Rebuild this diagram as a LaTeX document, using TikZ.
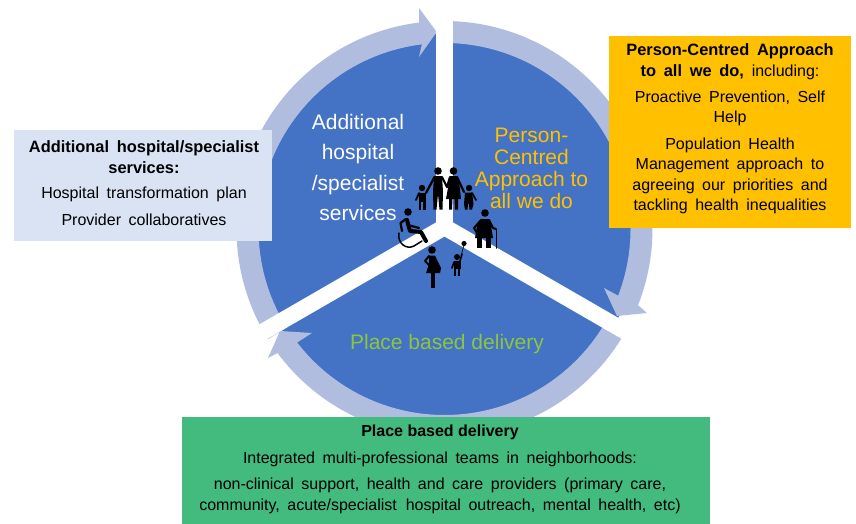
\documentclass[tikz,border=0pt]{standalone}
\usepackage{fontspec}
\setmainfont{Liberation Sans}
\newfontfamily\bodyfont[WordSpace=1.7]{Liberation Sans}
\definecolor{sector}{HTML}{4472C4}
\definecolor{ringc}{HTML}{B0BDDE}
\definecolor{leftbox}{HTML}{DAE3F3}
\definecolor{orangebox}{HTML}{FFC000}
\definecolor{greenbox}{HTML}{43BA7E}
\definecolor{goldtext}{HTML}{FFC000}
\definecolor{greentext}{HTML}{8CC63F}
\begin{document}
\begin{tikzpicture}[x=1pt,y=-1pt,
  ring/.style={fill=ringc,draw=none},
  band/.style={draw=white,line width=16.5pt},
  pane/.style={draw=none,inner sep=0pt,outer sep=0pt},
  big/.style={font=\fontsize{21}{30.5}\selectfont,align=center,inner sep=0pt},
  bigtight/.style={font=\fontsize{21}{22}\selectfont,align=center,inner sep=0pt},
  body/.style={font=\bodyfont\fontsize{16}{20.5}\selectfont,align=center,inner sep=0pt,text=black},
  bodybold/.style={font=\bodyfont\fontsize{16.4}{20.5}\selectfont,align=center,inner sep=0pt,text=black},
  fig/.style={fill=black,draw=none},
  limb/.style={draw=black,line cap=round,line join=round}]
\useasboundingbox (0,0) rectangle (856,523);
\fill[white] (0,0) rectangle (856,523);
\coordinate (c) at (444.5,229);
\coordinate (j) at (444.5,227);
% disc
\fill[sector] (c) circle[radius=195];
% ring arrows
\path (c) ++(148:208) coordinate (as);
\path (c) ++(263:186) coordinate (ai);
\fill[ring] (as) arc[start angle=148,end angle=263,radius=208]
  -- (419,8) -- (436.7,32) -- (419,57) -- (ai)
  arc[start angle=263,end angle=148,radius=186] -- cycle;
\path (c) ++(-90:208) coordinate (bs);
\path (c) ++(21:186) coordinate (bi);
\fill[ring] (bs) arc[start angle=-90,end angle=21.5,radius=208]
  -- (647,313) -- (617,316) -- (604,288) -- (bi)
  arc[start angle=21,end angle=-90,radius=186] -- cycle;
\path (c) ++(28:208) coordinate (cs);
\path (c) ++(142.4:186) coordinate (ci);
\fill[ring] (cs) arc[start angle=28,end angle=143.4,radius=208]
  -- (268,358) -- (280,331) -- (312,333) -- (ci)
  arc[start angle=142.4,end angle=28,radius=186] -- cycle;
% separating bands
\coordinate (jt) at (444.5,5);
\path (j) ++(30:235) coordinate (jr);
\path (j) ++(150:235) coordinate (jl);
\draw[band] (j) -- (jt);
\draw[band] (j) -- (jr);
\draw[band] (j) -- (jl);
% boxes
\node[pane,fill=leftbox,minimum width=258pt,minimum height=111pt,anchor=north west] (bl) at (14,130) {};
\node[pane,fill=orangebox,minimum width=242pt,minimum height=192pt,anchor=north west] (bo) at (609,36) {};
\node[pane,fill=greenbox,minimum width=528pt,minimum height=107pt,anchor=north west] (bg) at (182,416.5) {};
% sector labels
\node[big,text=white] (t1) at (358,167.5) {Additional\\hospital\\/specialist\\services};
\node[bigtight,text=goldtext] (t2) at (531.5,168) {Person-\\Centred\\Approach to\\all we do};
\node[font=\fontsize{21}{22}\selectfont,inner sep=0pt,text=greentext] (t3) at (447,344.5) {Place based delivery};
% left box text
\node[bodybold] (l1) at (144,157) {\bfseries Additional hospital/specialist\\\bfseries services:};
\node[body] (l2) at (144,194) {Hospital transformation plan};
\node[body] (l3) at (144,220) {Provider collaboratives};
% orange box text
\node[bodybold] (o1) at (730,61.5) {\textbf{Person-Centred Approach}\\\textbf{to all we do,} \fontsize{16}{20.5}\selectfont including:};
\node[body] (o2) at (730,108.5) {Proactive Prevention, Self\\Help};
\node[body] (o3) at (730,176) {Population Health\\Management approach to\\agreeing our priorities and\\tackling health inequalities};
% green box text
\node[font=\fontsize{16}{20.5}\selectfont\bfseries,inner sep=0pt,text=black] (g1) at (440,432) {Place based delivery};
\node[body] (g2) at (440,459) {Integrated multi-professional teams in neighborhoods:};
\node[body] (g3) at (440,496) {non-clinical support, health and care providers (primary care,\\community, acute/specialist\hspace{9pt}hospital outreach, mental health, etc)};
% pictograms: family
\fill[fig] (438,171) circle[radius=3.8];
\fill[fig] (453.5,171) circle[radius=3.8];
\fill[fig] (422,188) circle[radius=3.2];
\fill[fig] (469,188) circle[radius=3.2];
\fill[fig] (434,176) -- (442,176) -- (443,192) -- (442.5,209.5) -- (439.5,209.5) -- (438,194) -- (436.5,209.5) -- (433.5,209.5) -- (433,192) -- cycle;
\draw[limb,line width=2.2pt] (434.5,177) -- (426,193);
\draw[limb,line width=2.2pt] (442,177) -- (447,187);
\fill[fig] (450,176) -- (457,176) -- (459,181) -- (461,199) -- (458,199) -- (458,209.5) -- (455,209.5) -- (454.5,199) -- (452.5,199) -- (452,209.5) -- (449,209.5) -- (449,199) -- (446,199) -- (449,182) -- cycle;
\draw[limb,line width=2.2pt] (450,177) -- (447,187);
\draw[limb,line width=2.2pt] (457,177) -- (464,192);
\fill[fig] (418.5,192.5) rectangle (425.5,202);
\fill[fig] (418.5,201) rectangle (421.3,209.5);
\fill[fig] (422.7,201) rectangle (425.5,209.5);
\draw[limb,line width=1.8pt] (419,193) -- (416,200);
\fill[fig] (465,192.5) -- (472,192.5) -- (473.5,204) -- (472,209.5) -- (469.5,209.5) -- (469,204) -- (468,204) -- (467.5,209.5) -- (465,209.5) -- (464,204) -- cycle;
\draw[limb,line width=1.8pt] (472,193) -- (476,200);
% pictograms: wheelchair
\fill[fig] (408,212) circle[radius=3.8];
\draw[limb,line width=4pt] (407,220) -- (410,231) -- (421,232) -- (426,241);
\draw[limb,line width=2.2pt] (406,219) -- (400.5,223) -- (402,231);
\draw[limb,line width=2.2pt] (408,225) -- (419,228);
\draw[limb,line width=1.5pt] (399,233) .. controls (397,243) and (406,250) .. (414,246) -- (422,241);
% pictograms: older woman with cane
\fill[fig] (485,213) circle[radius=3.8];
\fill[fig] (481,219) -- (489,219) -- (491,226) -- (493,238) -- (475,238) -- (477,226) -- cycle;
\fill[fig] (477,237) rectangle (482,248);
\fill[fig] (486,237) rectangle (490.5,248);
\draw[limb,line width=2.2pt] (489,220) -- (493,228) -- (496,229);
\draw[limb,line width=1.5pt] (496.5,230) -- (496.5,248);
\draw[limb,line width=2pt] (481,220) -- (474,228) -- (477,233);
% pictograms: pregnant woman
\fill[fig] (432,250) circle[radius=3.8];
\fill[fig] (429,255.5) -- (435,255.5) -- (438,262) -- (441,268) -- (440,273) -- (426,273) -- (429,264) -- cycle;
\draw[limb,line width=2pt] (429,256) -- (425,261) -- (430,266);
\fill[fig] (431,272) rectangle (435,287.5);
% pictograms: child with balloon
\fill[fig] (464,243.5) circle[radius=2.6];
\draw[black,line width=0.6pt] (464,245) -- (461,256);
\fill[fig] (457,257) circle[radius=3];
\fill[fig] (453.5,261) rectangle (460.5,269);
\fill[fig] (454,268) rectangle (456.4,276);
\fill[fig] (457.6,268) rectangle (460,276);
\draw[limb,line width=1.6pt] (460,261) -- (462,254);
\draw[limb,line width=1.6pt] (454,262) -- (452,268);
\end{tikzpicture}
\end{document}
